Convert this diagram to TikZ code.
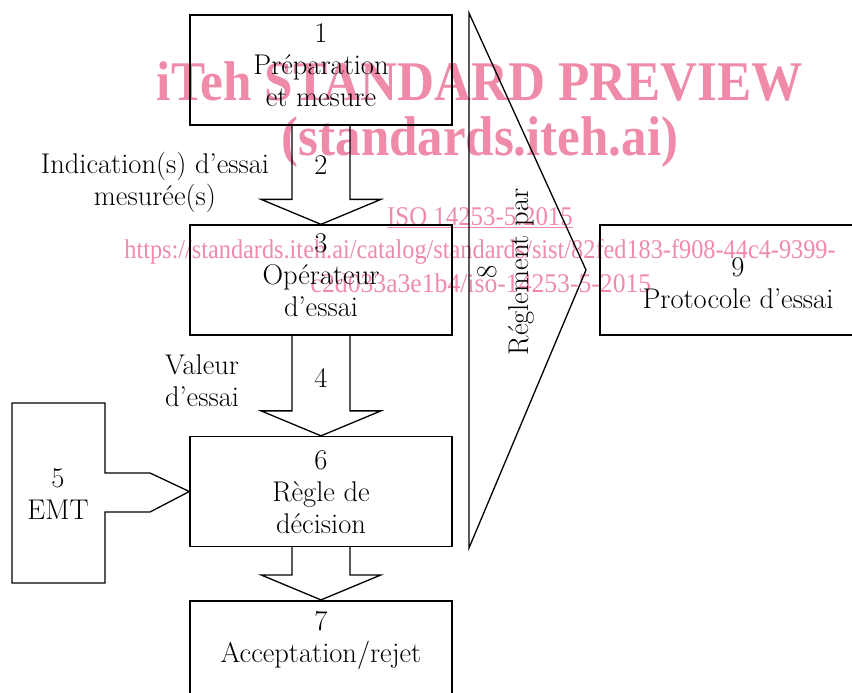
\documentclass[tikz,border=0pt]{standalone}
\usepackage{fontspec}
\usepackage{xcolor}
\usetikzlibrary{calc}
\usetikzlibrary{math}
\newfontfamily\wmfont{Liberation Serif}
\definecolor{wmpink}{RGB}{239,139,168}
\tikzset{
  box/.style={draw, line width=1.3pt, minimum width=262pt, minimum height=110pt, inner sep=0pt},
  lbl/.style={align=center, inner sep=0pt, font=\fontsize{28.5}{32}\selectfont},
  wm/.style={text=wmpink, inner sep=0pt},
}

\begin{document}
\begin{tikzpicture}[x=1pt,y=-1pt]
\tikzmath{
\sw=29;%shaft half width
\hw=60;%head half width
\hh=25;%head height
}
\useasboundingbox (0,0) rectangle (852,693);
\clip (0,0) rectangle (852,693);

% watermark
\node[wm, font=\wmfont\bfseries\fontsize{56}{60}\selectfont] (wmA) at (480,81) {\scalebox{0.915}[1]{iTeh STANDARD PREVIEW}};
\node[wm, font=\wmfont\bfseries\fontsize{56}{60}\selectfont] (wmB) at (480,142) {\scalebox{0.91}[1]{(standards.iteh.ai)}};
\node[wm, font=\wmfont\fontsize{27}{30}\selectfont] (wmC) at (480,218) {\scalebox{0.92}[1]{\underline{ISO 14253-5:2015}}};
\node[wm, font=\wmfont\fontsize{27}{30}\selectfont] (wmD) at (480,252) {\scalebox{0.9}[1]{https://standards.iteh.ai/catalog/standards/sist/82fed183-f908-44c4-9399-}};
\node[wm, font=\wmfont\fontsize{27}{30}\selectfont] (wmE) at (481,283) {\scalebox{0.95}[1]{c2d033a3e1b4/iso-14253-5-2015}};

\node[box] (prep) at (321,70) {};
\node[box] (oper) at (321,280) {};
\node[box] (rule) at (321,491.5) {};
\node[box, line width=2.2pt] (accept) at (321,656) {};
\node[box, minimum width=276pt] (proto) at (738,280) {};

\node[lbl] (prepT) at ([yshift=5pt]prep.center) {1\\Préparation\\et mesure};
\node[lbl] (operT) at ([yshift=5pt]oper.center) {3\\Opérateur\\d'essai};
\node[lbl] (ruleT) at ([yshift=-1pt]rule.center) {6\\Règle de\\décision};
\node[lbl] (acceptT) at ([yshift=16pt]accept.center) {7\\Acceptation/rejet};
\node[lbl] (protoT) at ([yshift=-3pt]proto.center) {9\\Protocole d'essai};

\foreach \a/\b in {prep/oper, oper/rule, rule/accept}
  \draw[line width=1.3pt] ($(\a.south)+(-\sw,0)$) |- ($(\b.north)+(-\hw,-\hh)$) -- (\b.north)
    -- ($(\b.north)+(\hw,-\hh)$) -| ($(\a.south)+(\sw,0)$);

\node[lbl] (n2) at (321,165) {2};
\node[lbl] (n4) at (321,378) {4};
\node[lbl] (ind) at (155,182) {Indication(s) d'essai\\mesurée(s)};
\node[lbl] (val) at (202,381) {Valeur\\d'essai};

\draw[line width=1.3pt] (105,473) -- (105,403) -- (12,403) -- (12,583) -- (105,583) -- (105,512)
  -- (150,512) -- (rule.west) -- (150,473) -- cycle;%EMT
\node[lbl] (emt) at (58,494) {5\\EMT};

\draw[line width=1.3pt] (469,13) -- (586,270) -- (469,548) -- cycle;
\node[lbl, rotate=90] (regl) at (506,272) {8\\Réglement par};
\end{tikzpicture}
\end{document}
